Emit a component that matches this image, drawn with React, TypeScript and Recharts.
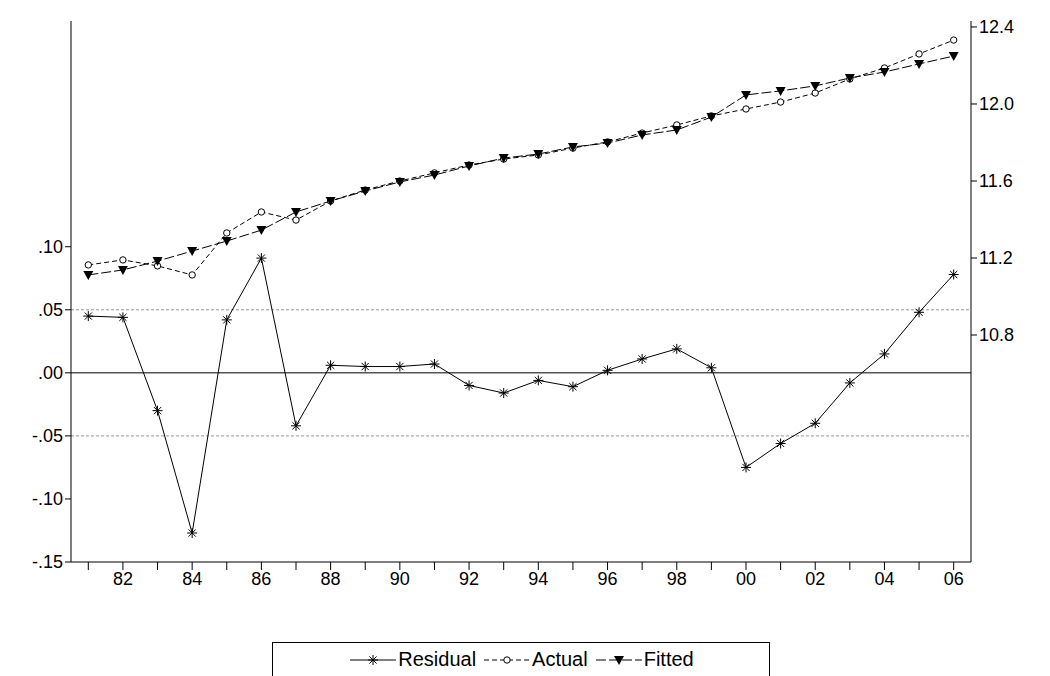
import React from 'react';
import { ComposedChart, Line, XAxis, YAxis, ReferenceLine } from 'recharts';

const years = [1981, 1982, 1983, 1984, 1985, 1986, 1987, 1988, 1989, 1990, 1991, 1992, 1993, 1994, 1995, 1996, 1997, 1998, 1999, 2000, 2001, 2002, 2003, 2004, 2005, 2006];
const residual = [0.045, 0.044, -0.03, -0.127, 0.042, 0.091, -0.042, 0.006, 0.005, 0.005, 0.007, -0.01, -0.016, -0.006, -0.011, 0.002, 0.011, 0.019, 0.004, -0.075, -0.056, -0.04, -0.008, 0.015, 0.048, 0.078];
const actual = [11.164, 11.19, 11.159, 11.112, 11.33, 11.439, 11.397, 11.496, 11.553, 11.6, 11.642, 11.683, 11.714, 11.735, 11.771, 11.803, 11.849, 11.891, 11.938, 11.974, 12.01, 12.057, 12.13, 12.187, 12.26, 12.332];
const fitted = [11.112, 11.138, 11.184, 11.236, 11.288, 11.345, 11.439, 11.496, 11.548, 11.595, 11.631, 11.678, 11.719, 11.74, 11.777, 11.797, 11.839, 11.865, 11.932, 12.047, 12.068, 12.094, 12.135, 12.166, 12.208, 12.249];
const leftTicks = [-0.15, -0.1, -0.05, 0, 0.05, 0.1];
const rightTicks = [10.8, 11.2, 11.6, 12.0, 12.4];

const data = years.map((y, i) => ({ year: y, residual: residual[i], actual: actual[i], fitted: fitted[i] }));

const fmtLeft = (v: number) => {
  if (Math.abs(v) < 1e-9) return '.00';
  const s = Math.abs(v).toFixed(2).replace(/^0/, '');
  return v < 0 ? '-' + s : s;
};

const Star = (p: any) => {
  const { cx, cy } = p;
  if (cx == null || cy == null) return null;
  const r = 5;
  return (
    <g stroke="#000" strokeWidth={1}>
      <line x1={cx - r} y1={cy} x2={cx + r} y2={cy} />
      <line x1={cx} y1={cy - r} x2={cx} y2={cy + r} />
      <line x1={cx - 3.6} y1={cy - 3.6} x2={cx + 3.6} y2={cy + 3.6} />
      <line x1={cx - 3.6} y1={cy + 3.6} x2={cx + 3.6} y2={cy - 3.6} />
    </g>
  );
};
const Circ = (p: any) => {
  const { cx, cy } = p;
  if (cx == null || cy == null) return null;
  return <circle cx={cx} cy={cy} r={3.2} fill="#fff" stroke="#000" strokeWidth={1} />;
};
const Tri = (p: any) => {
  const { cx, cy } = p;
  if (cx == null || cy == null) return null;
  return <path d={`M${cx - 5},${cy - 4} L${cx + 5},${cy - 4} L${cx},${cy + 5} Z`} fill="#000" />;
};

const font = { fontFamily: 'Arial, "Liberation Sans", sans-serif', fontSize: 18, fill: '#000' };

export default function App() {
  return (
    <div style={{ position: 'absolute', left: 0, top: 0, width: 1050, height: 676, background: '#fff' }}>
      <ComposedChart width={1050} height={676} data={data} margin={{ top: 21, right: 0, left: 0, bottom: 74 }}>
        <XAxis
          dataKey="year"
          type="number"
          domain={[1980.5, 2006.5]}
          ticks={years}
          interval={0}
          tickFormatter={(v: number) => (v % 2 === 0 ? String(v).slice(2) : '')}
          tick={font}
          tickSize={8}
          stroke="#000"
          height={40}
        />
        <YAxis yAxisId="l" domain={[-0.15, 0.279]} ticks={leftTicks} tickFormatter={fmtLeft} tick={font} width={71} stroke="#000" tickSize={6} />
        <YAxis yAxisId="r" orientation="right" domain={[9.621, 12.431]} ticks={rightTicks} tickFormatter={(v: number) => v.toFixed(1)} tick={font} width={79} stroke="#000" tickSize={6} />
        <YAxis yAxisId="t" orientation="right" hide domain={[0, 1]} />
        <ReferenceLine yAxisId="t" y={1} stroke="#000" />
        <ReferenceLine yAxisId="l" y={0.05} stroke="#999" strokeDasharray="3 2" />
        <ReferenceLine yAxisId="l" y={-0.05} stroke="#999" strokeDasharray="3 2" />
        <ReferenceLine yAxisId="l" y={0} stroke="#000" />
        <Line yAxisId="l" dataKey="residual" stroke="#000" strokeWidth={1} dot={<Star />} isAnimationActive={false} />
        <Line yAxisId="r" dataKey="actual" stroke="#000" strokeWidth={1} strokeDasharray="5 3" dot={<Circ />} isAnimationActive={false} />
        <Line yAxisId="r" dataKey="fitted" stroke="#000" strokeWidth={1} strokeDasharray="10 3" dot={<Tri />} isAnimationActive={false} />
      </ComposedChart>
      <div style={{ position: 'absolute', left: 272, top: 642, width: 498, height: 34, border: '1px solid #000', borderBottom: 'none', boxSizing: 'border-box', display: 'flex', alignItems: 'center', justifyContent: 'center', fontFamily: 'Arial, "Liberation Sans", sans-serif', fontSize: 20 }}>
        <svg width={50} height={20}><line x1={2} y1={10} x2={48} y2={10} stroke="#000" /><Star cx={25} cy={10} /></svg>
        <span style={{ marginRight: 6 }}>Residual</span>
        <svg width={50} height={20}><line x1={2} y1={10} x2={48} y2={10} stroke="#000" strokeDasharray="5 3" /><Circ cx={25} cy={10} /></svg>
        <span style={{ marginRight: 6 }}>Actual</span>
        <svg width={50} height={20}><line x1={2} y1={10} x2={48} y2={10} stroke="#000" strokeDasharray="10 3" /><Tri cx={25} cy={10} /></svg>
        <span>Fitted</span>
      </div>
    </div>
  );
}
